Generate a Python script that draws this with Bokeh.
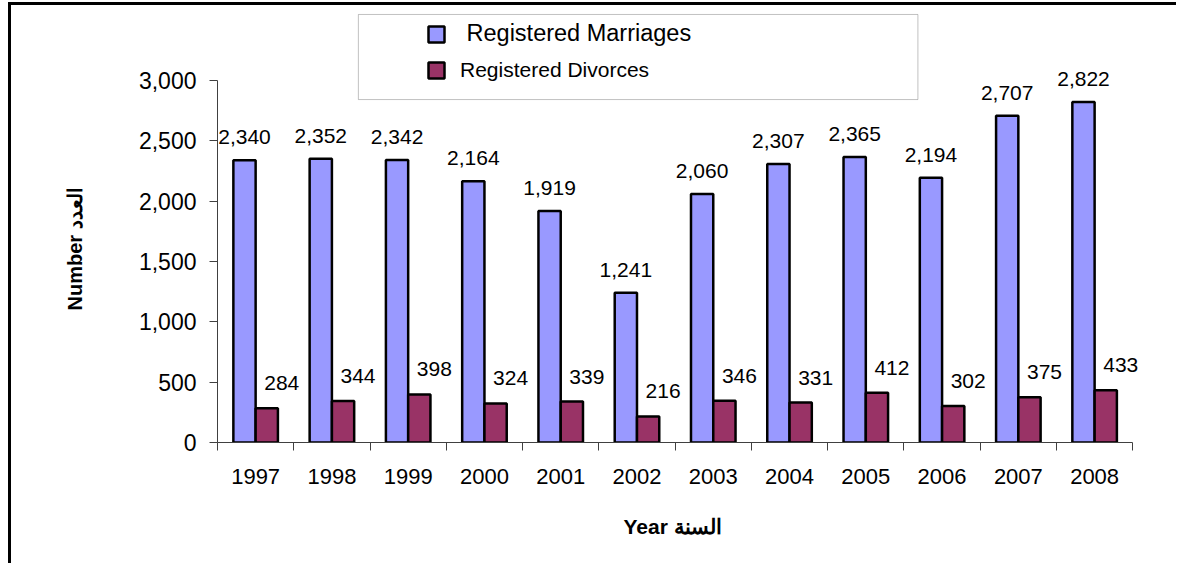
import numpy as np
from bokeh.plotting import figure
from bokeh.models import (Range1d, FixedTicker, NumeralTickFormatter, ColumnDataSource,
                          LabelSet, Legend, LegendItem, BoxAnnotation, Title)
from bokeh.core.properties import value
from bokeh.embed import file_html
from bokeh.resources import INLINE
from bokeh.transform import dodge

years = ["1997", "1998", "1999", "2000", "2001", "2002",
         "2003", "2004", "2005", "2006", "2007", "2008"]
marriages = [2340, 2352, 2342, 2164, 1919, 1241, 2060, 2307, 2365, 2194, 2707, 2822]
divorces = [284, 344, 398, 324, 339, 216, 346, 331, 412, 302, 375, 433]
y_ticks = [0, 500, 1000, 1500, 2000, 2500, 3000]

FONT = "Liberation Sans"
M_COLOR = "#9999FF"
D_COLOR = "#993366"
AX_COLOR = "#404040"

n = len(years)
pos = np.arange(n) + 0.5
src = ColumnDataSource(dict(
    x=pos, m=marriages, d=divorces,
    ml=[f"{v:,}" for v in marriages], dl=[f"{v:,}" for v in divorces]))

p = figure(width=1168, height=561, output_backend="svg", toolbar_location=None,
           x_range=Range1d(0, 12.39), y_range=Range1d(0, 3580),
           min_border_left=205, min_border_right=17, min_border_top=5, min_border_bottom=124)
p.styles = {"border-top": "3px solid black", "border-left": "3px solid black",
            "margin-top": "2px", "margin-left": "8px"}
p.outline_line_color = None
p.xgrid.visible = False
p.ygrid.visible = False
p.background_fill_color = "white"
p.border_fill_color = "white"

bw = 0.292
rm = p.vbar(x=dodge("x", -bw / 2), top="m", width=bw, source=src,
            fill_color=M_COLOR, line_color="black", line_width=2.5)
rd = p.vbar(x=dodge("x", bw / 2), top="d", width=bw, source=src,
            fill_color=D_COLOR, line_color="black", line_width=2.5)

p.add_layout(LabelSet(x=dodge("x", -bw / 2), y="m", text="ml", source=src,
                      y_offset=16, text_align="center", text_baseline="alphabetic",
                      text_font=value(FONT), text_font_size="21px", text_color="black"))
p.add_layout(LabelSet(x=dodge("x", bw / 2), y="d", text="dl", source=src,
                      x_offset=15, y_offset=18, text_align="center", text_baseline="alphabetic",
                      text_font=value(FONT), text_font_size="21px", text_color="black"))

# y axis
ya = p.yaxis[0]
ya.ticker = FixedTicker(ticks=y_ticks)
ya.formatter = NumeralTickFormatter(format="0,0")
ya.bounds = (0, 3000)
ya.major_tick_in = 0
ya.major_tick_out = 8
ya.minor_tick_line_color = None
ya.major_label_standoff = 13
ya.axis_line_color = AX_COLOR
ya.major_tick_line_color = AX_COLOR
ya.major_label_text_font = FONT
ya.major_label_text_font_size = "23px"
ya.major_label_text_color = "black"

# x axis: labels at category centres, tick marks at boundaries
xa = p.xaxis[0]
xa.ticker = FixedTicker(ticks=list(pos), minor_ticks=list(range(n + 1)))
xa.major_label_overrides = {float(t): y for t, y in zip(pos, years)}
xa.bounds = (0, n)
xa.major_tick_in = 0
xa.major_tick_out = 0
xa.minor_tick_in = 0
xa.minor_tick_out = 8
xa.minor_tick_line_color = AX_COLOR
xa.axis_line_color = AX_COLOR
xa.major_label_standoff = 18
xa.major_label_text_font = FONT
xa.major_label_text_font_size = "22px"
xa.major_label_text_color = "black"

# axis titles as side titles (positioned like the original)
p.add_layout(Title(text="Year السنة", align="left", offset=406, standoff=53,
                   text_font=FONT, text_font_size="21px", text_font_style="bold",
                   text_color="black"), "below")
p.add_layout(Title(text="Number العدد", align="left", offset=132, standoff=100,
                   text_font=FONT, text_font_size="20px", text_font_style="bold",
                   text_color="black"), "left")

# legend box
p.add_layout(BoxAnnotation(left=1.847, right=9.183, bottom=2842, top=3547,
                           fill_alpha=0, line_color="#333333", line_width=1))

leg1 = Legend(items=[LegendItem(label=" Registered Marriages", renderers=[rm])],
              location=(209, 395), padding=0, margin=0, border_line_color=None,
              background_fill_alpha=0, glyph_width=20, glyph_height=20, label_standoff=14,
              label_text_font=FONT, label_text_font_size="23.5px", label_text_color="black")
leg2 = Legend(items=[LegendItem(label="Registered Divorces", renderers=[rd])],
              location=(209, 360), padding=0, margin=0, border_line_color=None,
              background_fill_alpha=0, glyph_width=20, glyph_height=20, label_standoff=14,
              label_text_font=FONT, label_text_font_size="21px", label_text_color="black")
p.add_layout(leg1)
p.add_layout(leg2)

open("out.html", "w").write(file_html(p, INLINE))
